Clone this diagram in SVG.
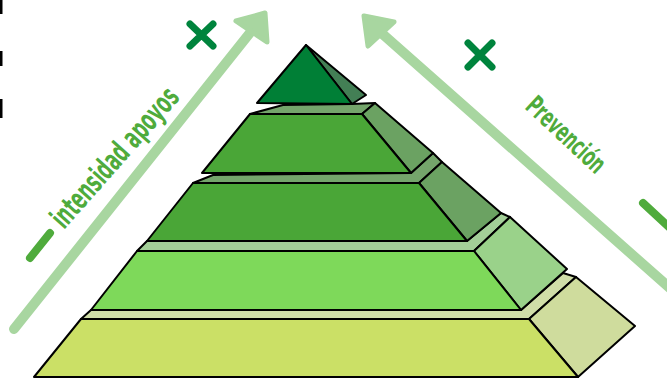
<svg xmlns="http://www.w3.org/2000/svg" width="667" height="378" viewBox="0 0 667 378">
<style>
.e{stroke:#000;stroke-width:2;stroke-linejoin:round}
.arr{stroke:#a8d6a0;stroke-width:10;stroke-linecap:round;fill:none}
.head{fill:#a8d6a0;stroke:#a8d6a0;stroke-width:5;stroke-linejoin:round}
.x{stroke:#00843d;stroke-width:7;stroke-linecap:round;fill:none}
.m{stroke:#4fab3c;stroke-width:8;stroke-linecap:round}
.lbl{font-family:"DejaVu Sans Condensed","DejaVu Sans",sans-serif;font-weight:bold;fill:#4fab3c;font-stretch:condensed}
</style>
<rect width="667" height="378" fill="#fff"/>
<g id="edge-marks" fill="#000">
<rect x="0" y="0" width="2.5" height="14"/>
<rect x="0" y="51" width="2.5" height="15"/>
<rect x="0" y="99" width="2.5" height="19"/>
</g>
<g id="connectors">
<line class="arr" x1="14" y1="329" x2="253" y2="29"/>
<polygon class="head" points="236,21 265,13 267,42"/>
<line class="arr" x1="680" y1="297" x2="378" y2="30"/>
<polygon class="head" points="364,16 394,22 368,46"/>
</g>
<g id="tier5">
<polygon class="e" fill="#d0dea8" points="81,319 91,310 521,310 563,273 576,277 529,319"/>
<polygon class="e" fill="#cfdc9d" points="529,319 576,277 635,326 578,377"/>
<polygon class="e" fill="#cbe066" points="81,319 529,319 578,377 34,377"/>
</g>
<g id="tier4">
<polygon class="e" fill="#a3cf98" points="137,251 147,241 467,241 501,213 510,217 474,251"/>
<polygon class="e" fill="#9ad28a" points="474,251 510,217 567,269 521,310"/>
<polygon class="e" fill="#7ed95a" points="137,251 474,251 521,310 91,310"/>
</g>
<g id="tier3">
<polygon class="e" fill="#74a56b" points="193,183 213,175 411,173 433,153 442,162 419,183"/>
<polygon class="e" fill="#6ba262" points="419,183 442,162 501,213 467,241"/>
<polygon class="e" fill="#4aa637" points="193,183 419,183 467,241 147,241"/>
</g>
<g id="tier2">
<polygon class="e" fill="#74a56b" points="250,114 283,105 352,104 375,103 362,114"/>
<polygon class="e" fill="#6ba262" points="362,114 375,103 433,153 411,173"/>
<polygon class="e" fill="#4aa637" points="250,114 362,114 411,173 202,173"/>
</g>
<g id="tier1">
<polygon class="e" fill="#437f55" points="306,45 366,95 352,104"/>
<polygon class="e" fill="#007f36" points="306,45 352,104 257,103"/>
</g>
<g id="marks">
<path class="x" d="M190,24 L213,46 M213,24 L190,46"/>
<path class="x" d="M468,43 L492,67 M492,43 L468,67"/>
<line class="m" x1="30" y1="258" x2="50" y2="233"/>
<line class="m" x1="643" y1="203" x2="670" y2="228"/>
</g>
<g id="labels">
<text class="lbl" font-size="30" transform="translate(64,230) rotate(-48.5)" textLength="176" lengthAdjust="spacingAndGlyphs">intensidad apoyos</text>
<text class="lbl" font-size="27" transform="translate(524,108) rotate(43)" textLength="98" lengthAdjust="spacingAndGlyphs">Prevención</text>
</g>
</svg>
